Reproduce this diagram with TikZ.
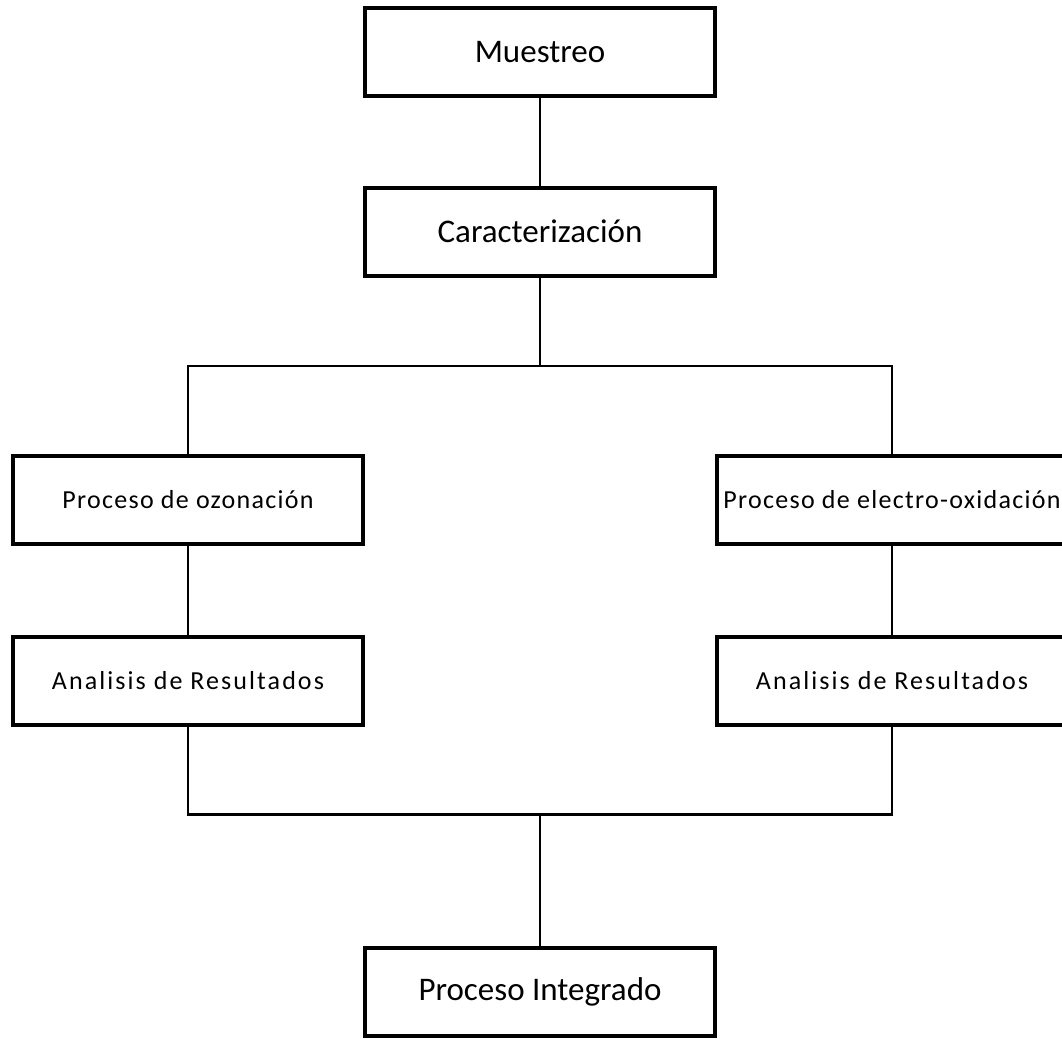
\documentclass[tikz,border=0pt]{standalone}
\usepackage{fontspec}
\setmainfont{Carlito}
\newfontfamily\spacedfont[LetterSpace=5]{Carlito}
\newfontfamily\widerfont[LetterSpace=8]{Carlito}
\begin{document}
\begin{tikzpicture}[x=1pt,y=-1pt,
  box/.style={draw=black, line width=4pt, minimum width=350pt, minimum height=88pt, inner sep=0pt, align=center, text=black},
  bigtext/.style={font=\fontsize{33}{40}\selectfont},
  smalltext/.style={font=\spacedfont\fontsize{26}{31}\selectfont},
  widetext/.style={font=\widerfont\fontsize{26}{31}\selectfont},
  conn/.style={draw=black, line width=2.7pt}]
\useasboundingbox (0,0) rectangle (1062,1038);
% boxes
\node[box,bigtext] (m) at (540,52.5) {Muestreo};
\node[box,bigtext] (c) at (540,231.5) {Caracterización};
\node[box,smalltext] (oz) at (188,500) {Proceso de ozonación};
\node[box,smalltext] (el) at (892,500) {Proceso de electro-oxidación};
\node[box,widetext] (al) at (188,680.5) {Analisis de Resultados};
\node[box,widetext] (ar) at (892,680.5) {Analisis de Resultados};
\node[box,bigtext] (pi) at (540,991.5) {Proceso Integrado};
% junctions
\coordinate (jt) at (540,366);
\coordinate (jb) at (540,814.5);
% connectors
\draw[conn] (m.south) -- (c.north);
\draw[conn] (c.south) -- (jt);
\draw[conn] (oz.north) |- (jt) -| (el.north);
\draw[conn] (oz.south) -- (al.north);
\draw[conn] (el.south) -- (ar.north);
\draw[conn] (al.south) |- (jb) -| (ar.south);
\draw[conn] (jb) -- (pi.north);
\end{tikzpicture}
\end{document}
